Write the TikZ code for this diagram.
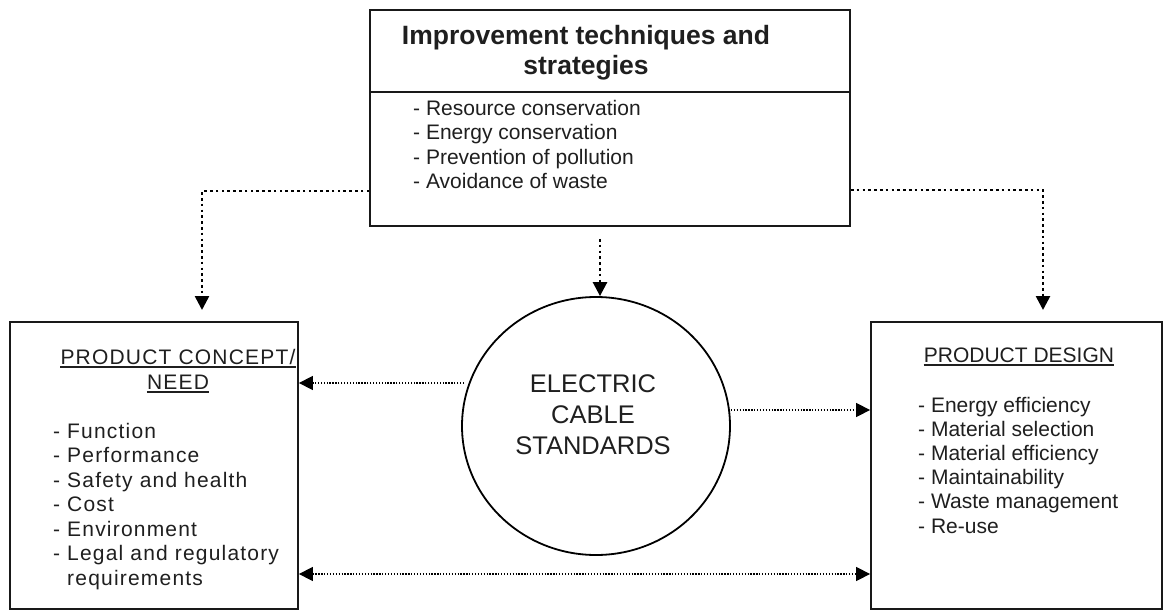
\documentclass[tikz,border=0pt]{standalone}
\usepackage{fontspec}
\setmainfont{Liberation Sans}
\usetikzlibrary{arrows.meta,shapes.geometric}

\newcommand{\itemfont}{\fontsize{21}{24.5}\selectfont}
\newcommand{\spacedfont}{\fontsize{21}{24.5}\selectfont\addfontfeatures{LetterSpace=5.7}}
\newcommand{\headfont}{\fontsize{26.5}{30}\selectfont\bfseries}
\newcommand{\circfont}{\fontsize{25.5}{31}\selectfont}

\tikzset{
  frame/.style={draw=black!90, line width=1.8pt, fill=white, inner sep=0pt},
  txt/.style={inner sep=0pt, text=black!88},
  tip/.style={-{Triangle[length=14pt,width=14pt]}},
  bigdots/.style={line width=2.6pt, dash pattern=on 2.6pt off 3.2pt, tip},
  smalldots/.style={line width=1.4pt, dash pattern=on 1.3pt off 1.6pt},
  uline/.style={line width=1.4pt, black!88}
}

\begin{document}
\begin{tikzpicture}[x=1pt, y=-1pt]
\useasboundingbox (0,0) rectangle (1163,610);

% boxes and the central circle
\node[frame, minimum width=480pt, minimum height=216pt] (top) at (610,118) {};
\draw[line width=1.8pt, black!90] ([yshift=-83pt]top.north west) -- ([yshift=-83pt]top.north east);
\node[frame, minimum width=288pt, minimum height=287pt] (left) at (154,465.5) {};
\node[frame, minimum width=291pt, minimum height=287pt] (right) at (1016.5,465.5) {};
\node[draw=black, line width=1.8pt, ellipse, minimum width=268pt, minimum height=258pt, inner sep=0pt] (circ) at (596,426) {};

% top box text (multi-line nodes sit on the baseline of their last line)
\node[txt, font=\headfont, align=center, anchor=base] (ttl) at (586,75) {Improvement techniques and\\strategies};
\node[txt, font=\itemfont, align=left, anchor=base west] (tlist) at (413,188.5)
  {- Resource conservation\\- Energy conservation\\- Prevention of pollution\\- Avoidance of waste};

% left box text
\node[txt, font=\spacedfont, anchor=base] (pc1) at (178,364) {PRODUCT CONCEPT/};
\node[txt, font=\spacedfont, anchor=base] (pc2) at (178,389) {NEED};
\draw[uline] ([yshift=-3pt]pc1.base west) -- ([yshift=-3pt]pc1.base east);
\draw[uline] ([yshift=-3pt]pc2.base west) -- ([yshift=-3pt]pc2.base east);
\node[txt, font=\spacedfont, align=left, anchor=base west] (llist) at (53,585)
  {- Function\\- Performance\\- Safety and health\\- Cost\\- Environment\\- Legal and regulatory\\\phantom{- }requirements};

% right box text
\node[txt, font=\itemfont, anchor=base] (pd) at (1019,362) {PRODUCT DESIGN};
\draw[uline] ([yshift=-3pt]pd.base west) -- ([yshift=-3pt]pd.base east);
\node[txt, font=\fontsize{21}{24.2}\selectfont, align=left, anchor=base west] (rlist) at (918,533)
  {- Energy efficiency\\- Material selection\\- Material efficiency\\- Maintainability\\- Waste management\\- Re-use};

% circle text
\node[txt, font=\circfont, align=center, anchor=base] (ctext) at (593,454) {ELECTRIC\\CABLE\\STANDARDS};

% connectors from the strategies box
\coordinate (ltip) at (202,310);
\coordinate (rtip) at (1043,310);
\draw[bigdots] ([yshift=-73pt]top.west) -| (ltip);
\draw[bigdots] ([yshift=-72pt]top.east) -| (rtip);
\draw[bigdots] ([yshift=-12pt]top.south -| 600,0) -- (circ.north -| 600,0);

% connectors between the circle and the boxes
\draw[smalldots, tip] ([xshift=3pt,yshift=43pt]circ.west) coordinate (p1) -- (p1 -| left.east);
\draw[smalldots, tip] ([yshift=16pt]circ.east) coordinate (p2) -- (p2 -| right.west);
\draw[smalldots, {Triangle[length=14pt,width=14pt]}-{Triangle[length=14pt,width=14pt]}]
  (left.east |- 0,574) -- (right.west |- 0,574);
\end{tikzpicture}
\end{document}
